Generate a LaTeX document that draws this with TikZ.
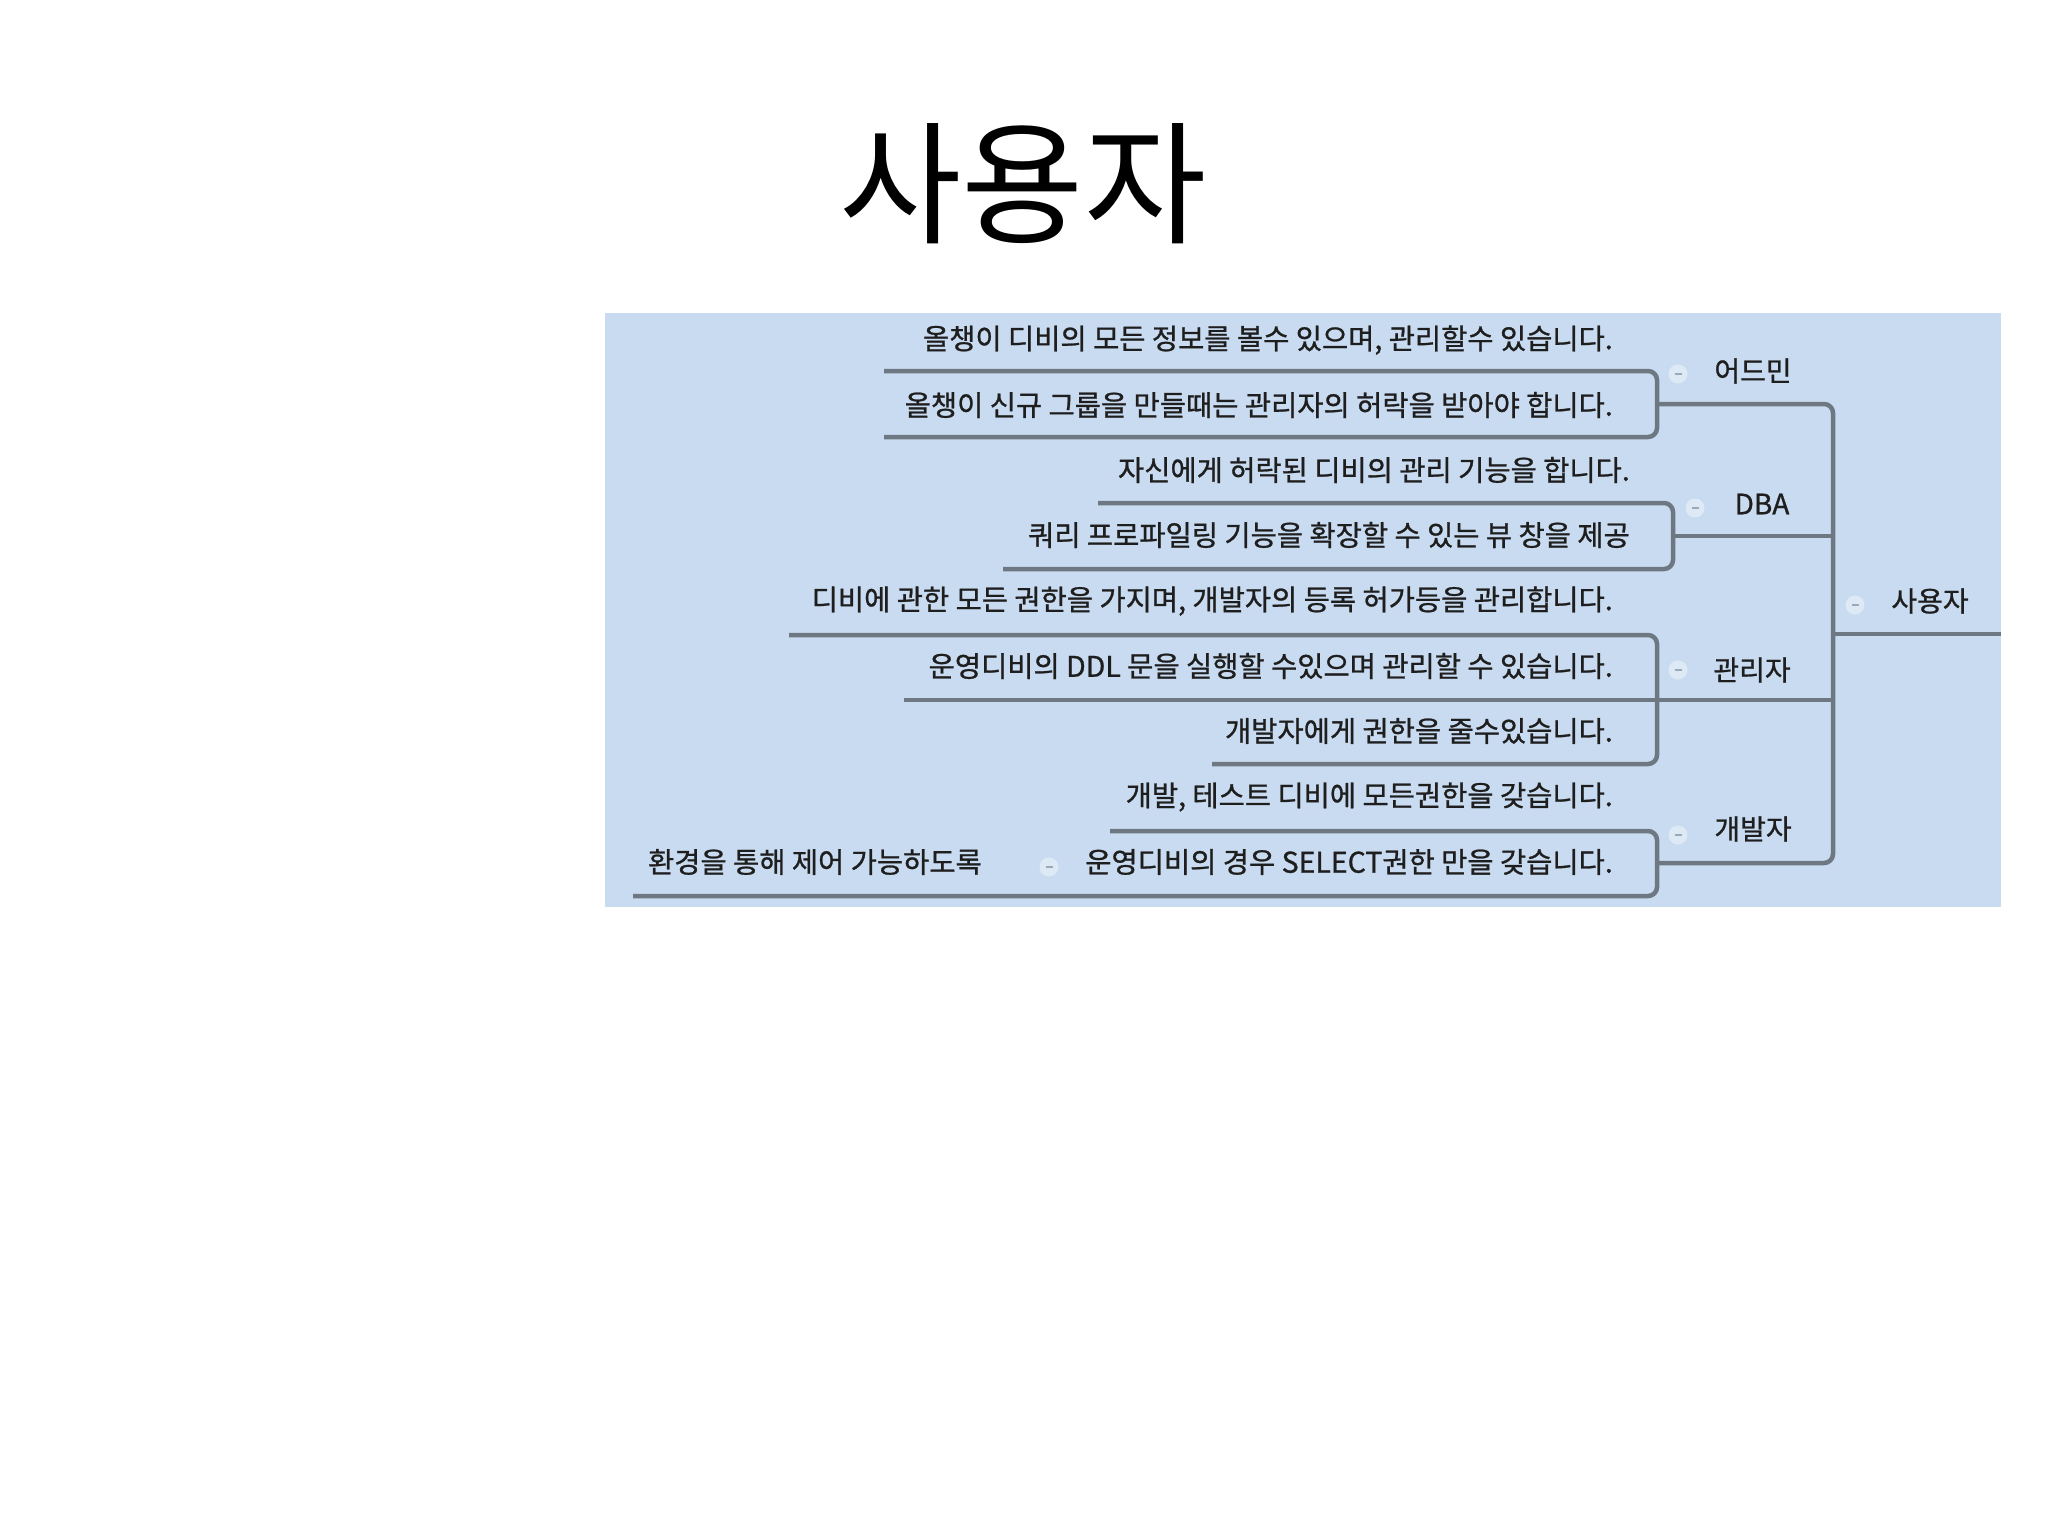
\documentclass[tikz,border=0pt]{standalone}
\usepackage{fontspec}
\newfontfamily\kr{Noto Sans CJK KR}
\newfontfamily\krm[FakeBold=0.9]{Noto Sans CJK KR}
\definecolor{panelc}{HTML}{C8DBF0}
\definecolor{linec}{HTML}{6E7883}
\definecolor{textc}{HTML}{1E1E1E}
\definecolor{btnc}{HTML}{9AA8B8}
\tikzset{
  maptext/.style={font=\krm\fontsize{28.5}{32}\selectfont, text=textc, inner sep=0pt, anchor=east},
  topic/.style={font=\krm\fontsize{28}{32}\selectfont, text=textc, inner sep=0pt},
  conn/.style={draw=linec, line width=4.5pt, rounded corners=9pt},
  btn/.style={circle, fill=white, fill opacity=0.4, minimum size=19pt, inner sep=0pt,
    path picture={\draw[btnc, line width=1.6pt, opacity=1] (path picture bounding box.center) +(-3.5,0) -- +(3.5,0);}}
}
\begin{document}
\begin{tikzpicture}[x=1pt,y=-1pt]
\useasboundingbox (0,0) rectangle (2048,1536);
\fill[white] (0,0) rectangle (2048,1536);
\fill[panelc] (605,313) rectangle (2001,907);

% title
\node[font=\kr\fontsize{133}{136}\selectfont, text=black, inner sep=0pt] (title) at (1023,184) {사용자};

% leaf texts
\node[maptext] (t1) at (1613,340) {올챙이 디비의 모든 정보를 볼수 있으며, 관리할수 있습니다.};
\node[maptext] (t2) at (1613,405) {올챙이 신규 그룹을 만들때는 관리자의 허락을 받아야 합니다.};
\node[maptext] (t3) at (1630,470) {자신에게 허락된 디비의 관리 기능을 합니다.};
\node[maptext] (t4) at (1630,535) {쿼리 프로파일링 기능을 확장할 수 있는 뷰 창을 제공};
\node[maptext] (t5) at (1613,601) {디비에 관한 모든 권한을 가지며, 개발자의 등록 허가등을 관리합니다.};
\node[maptext] (t6) at (1613,666) {운영디비의 DDL 문을 실행할 수있으며 관리할 수 있습니다.};
\node[maptext] (t7) at (1613,731) {개발자에게 권한을 줄수있습니다.};
\node[maptext] (t8) at (1613,797) {개발, 테스트 디비에 모든권한을 갖습니다.};
\node[maptext] (t9) at (1613,862) {운영디비의 경우 SELECT권한 만을 갖습니다.};
\node[maptext] (t10) at (982,862) {환경을 통해 제어 가능하도록};

% topics
\node[topic] (admin) at (1753,371) {어드민};
\node[topic] (dba) at (1762,504) {DBA};
\node[topic] (mgr) at (1752,670) {관리자};
\node[topic] (dev) at (1753,829) {개발자};
\node[topic] (root) at (1930,601) {사용자};

% collapse buttons
\node[btn] (b1) at (1678,374) {};
\node[btn] (b2) at (1695,508) {};
\node[btn] (b3) at (1678,670) {};
\node[btn] (b4) at (1678,835) {};
\node[btn] (b5) at (1855,605) {};
\node[btn] (b6) at (1049,867) {};

% underline / bracket coordinates
\coordinate (a1) at (884,371);
\coordinate (a2) at (884,437);
\coordinate (abT) at (1657,371);
\coordinate (abB) at (1657,437);
\coordinate (abM) at (1657,404);

\coordinate (a3) at (1098,503);
\coordinate (a4) at (1003,569);
\coordinate (dbT) at (1673,503);
\coordinate (dbB) at (1673,569);
\coordinate (dbM) at (1673,536);

\coordinate (a5) at (789,635);
\coordinate (a6) at (904,700);
\coordinate (a7) at (1212,764);
\coordinate (mgT) at (1657,635);
\coordinate (mgB) at (1657,764);

\coordinate (a8) at (1110,831);
\coordinate (a9) at (633,896);
\coordinate (dvT) at (1657,831);
\coordinate (dvB) at (1657,896);
\coordinate (dvM) at (1657,863);

\coordinate (trT) at (1833,404);
\coordinate (trD) at (1833,536);
\coordinate (trR) at (1833,634);
\coordinate (trM) at (1833,700);
\coordinate (trB) at (1833,863);
\coordinate (rootE) at (2001,634);

% brackets
\draw[conn] (a1) -- (abT) -- (abB) -- (a2);
\draw[conn] (a3) -- (dbT) -- (dbB) -- (a4);
\draw[conn] (a5) -- (mgT) -- (mgB) -- (a7);
\draw[conn] (a8) -- (dvT) -- (dvB) -- (a9);

% trunk
\draw[conn] (abM) -- (trT) -- (trB) -- (dvM);
\draw[conn] (dbM) -- (trD);
\draw[conn] (a6) -- (trM);
\draw[conn] (trR) -- (rootE);
\end{tikzpicture}
\end{document}
